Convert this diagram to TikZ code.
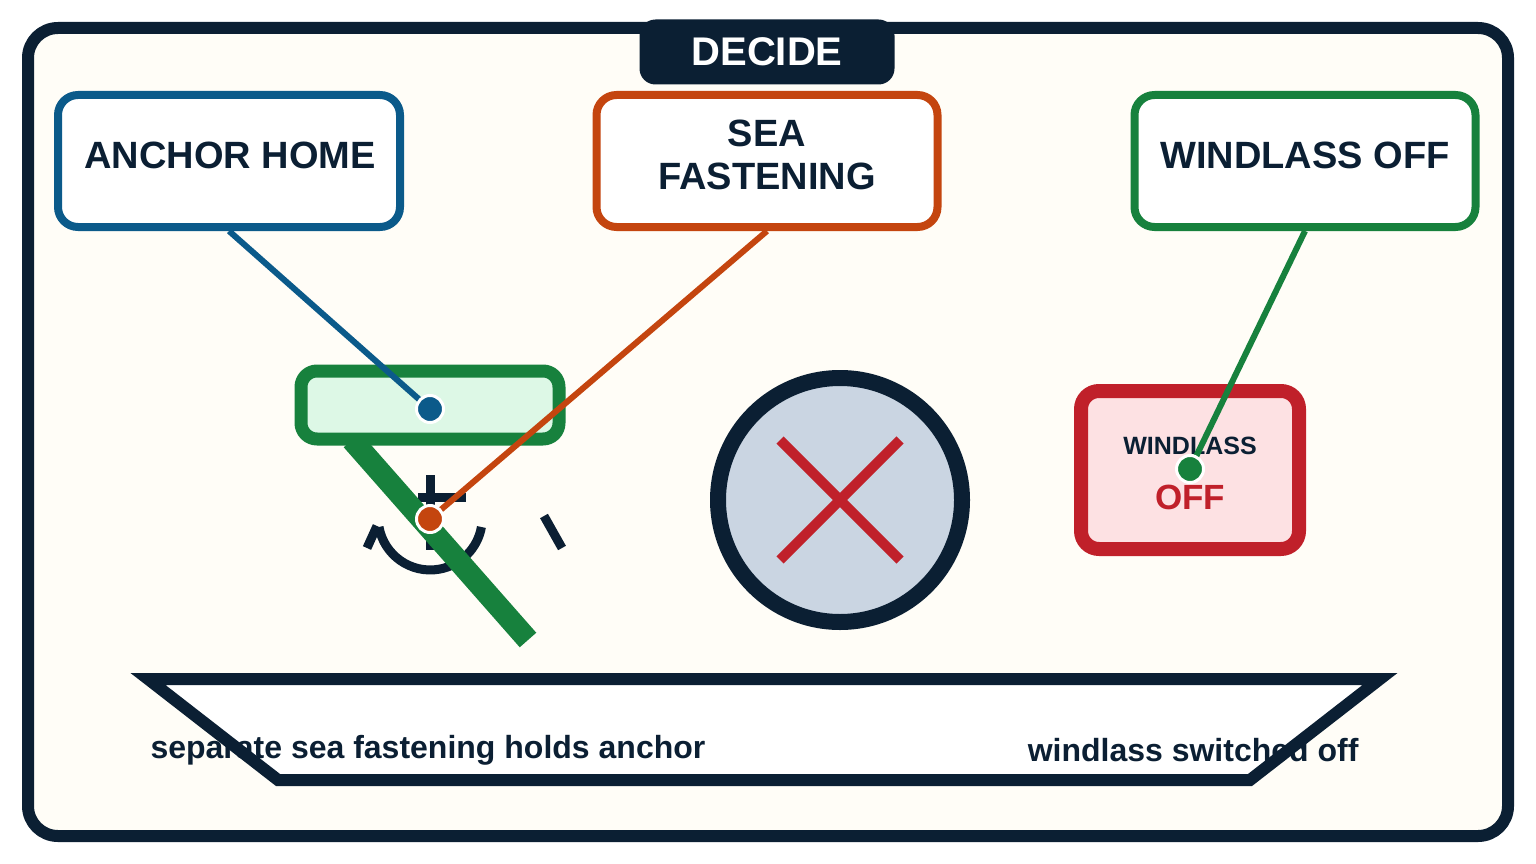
\documentclass[tikz,border=0pt]{standalone}
\usepackage{fontspec}
\setmainfont{Liberation Sans}
\begin{document}
\begin{tikzpicture}[x=1pt,y=-1pt,line join=round,
 box/.style={draw,line width=8,rounded corners=20,fill=white},
 btxt/.style={align=center,font=\fontsize{38}{43}\selectfont\bfseries,text=ink},
 dot/.style={circle,draw=white,line width=3,minimum size=27,inner sep=0},
 lead/.style={line width=6}]
\definecolor{ink}{HTML}{0B1F33}
\definecolor{bg}{HTML}{FFFDF7}
\definecolor{cblue}{HTML}{0B5A8A}
\definecolor{corange}{HTML}{C4450F}
\definecolor{cgreen}{HTML}{17813D}
\definecolor{cred}{HTML}{C0202A}
\useasboundingbox (0,0) rectangle (1536,864);
\fill[white] (0,0) rectangle (1536,864);
\draw[ink,line width=12,fill=bg,rounded corners=30] (28,28) rectangle (1508,836);
\node[fill=ink,rounded corners=16,minimum width=255,minimum height=65,text=white,font=\fontsize{40}{40}\selectfont\bfseries] (tab) at (767,52) {DECIDE};
\node[box,draw=cblue,minimum width=342,minimum height=132] (b1) at (229,161) {};
\node[box,draw=corange,minimum width=341,minimum height=132] (b2) at (767,161) {};
\node[box,draw=cgreen,minimum width=341,minimum height=132] (b3) at (1305,161) {};
\node[btxt] (l1) at (230,155) {ANCHOR HOME};
\node[btxt] (l2) at (767,155) {SEA\\FASTENING};
\node[btxt] (l3) at (1305,155) {WINDLASS OFF};
% anchor
\draw[ink,line width=9] (430,475) -- (430,550);
\draw[ink,line width=9] (418,497) -- (466,497);
\draw[ink,line width=9] (379,527) arc[start angle=170,end angle=10,radius=52];
\draw[ink,line width=9] (367,548) -- (377,526);
\draw[ink,line width=9] (544,516) -- (562,548);
\draw[cgreen,line width=22] (352,440) -- (528,640);
\node[draw=cgreen,line width=13,fill={rgb,255:red,221;green,248;blue,230},rounded corners=16,minimum width=258,minimum height=68] (hold) at (430,405) {};
% cross circle
\node[circle,draw=ink,line width=16,fill={rgb,255:red,202;green,213;blue,226},minimum size=244] (no) at (840,500) {};
\draw[cred,line width=10] (780,440) -- (900,560) (900,440) -- (780,560);
% windlass box
\node[draw=cred,line width=14,fill={rgb,255:red,253;green,225;blue,227},rounded corners=18,minimum width=218,minimum height=158] (wb) at (1190,470) {};
\node[text=ink,font=\fontsize{25}{25}\selectfont\bfseries] (wl) at (1190,446) {WINDLASS};
\node[text=cred,font=\fontsize{35}{35}\selectfont\bfseries] (off) at (1190,497) {OFF};
% leaders
\coordinate (d1) at (430,409);
\coordinate (d2) at (430,519);
\coordinate (d3) at (1190,469);
\draw[lead,cblue] (b1.south) -- (d1);
\draw[lead,corange] (b2.south) -- (d2);
\draw[lead,cgreen] (b3.south) -- (d3);
\node[dot,fill=cblue] at (d1) {};
\node[dot,fill=corange] at (d2) {};
\node[dot,fill=cgreen] at (d3) {};
% base
\fill[white] (148,679) -- (1380,679) -- (1250,780) -- (278,780) -- cycle;
\node[text=ink,font=\fontsize{32}{32}\selectfont\bfseries,anchor=west] (t1) at (147,750) {separate sea fastening holds anchor};
\node[text=ink,font=\fontsize{32}{32}\selectfont\bfseries,anchor=east] (t2) at (1362,750) {windlass switched off};
\draw[ink,line width=12,line join=miter,miter limit=20] (148,679) -- (1380,679) -- (1250,780) -- (278,780) -- cycle;
\end{tikzpicture}
\end{document}
